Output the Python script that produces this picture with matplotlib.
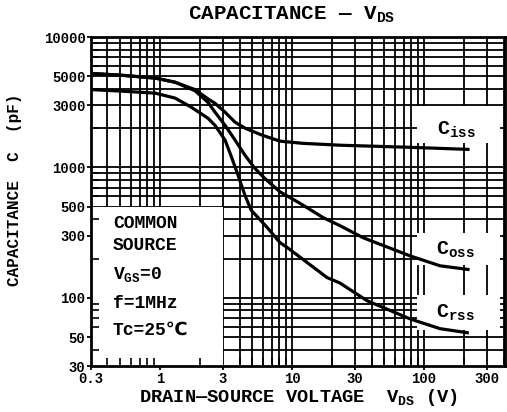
import numpy as np
import matplotlib
matplotlib.use('Agg')
import matplotlib.pyplot as plt
from matplotlib.patches import Rectangle
from matplotlib.ticker import FixedLocator, LogLocator, NullFormatter


# valores (VDS em V, C em pF)
vds_iss = [0.3, 0.5, 0.92, 1.3, 1.84, 2.31, 2.61, 3.11, 3.7, 4.4, 5.9, 8.1, 12, 23, 78, 215]
c_iss = [5250, 5100, 4840, 4500, 3950, 3350, 3100, 2650, 2220, 2000, 1770, 1590, 1530, 1480, 1426, 1375]

vds_oss = [0.3, 0.5, 0.92, 1.3, 1.84, 2.31, 2.61, 3.11, 3.7, 4.4, 5.24, 6.24, 8.1, 11.5, 17.2,
           23, 34.5, 78, 132, 215]
c_oss = [5250, 5100, 4840, 4500, 3870, 3150, 2650, 2100, 1620, 1240, 980, 820, 650, 530, 412,
         358, 289, 210, 176, 165]

vds_rss = [0.3, 0.5, 0.92, 1.3, 1.72, 2.31, 2.61, 3.11, 3.51, 3.9, 4.4, 4.9, 6.5, 8.1, 9.2,
           18.4, 23, 37, 78, 132, 212]
c_rss = [3950, 3850, 3710, 3400, 2900, 2380, 2100, 1620, 1170, 870, 610, 470, 345, 265, 243,
         143, 130, 95, 69, 58, 54]

xticks = [0.3, 1, 3, 10, 30, 100, 300]
xtick_labels = ['0.3', '1', '3', '10', '30', '100', '300']
yticks = [30, 50, 100, 300, 500, 1000, 3000, 5000, 10000]
ytick_labels = ['30', '50', '100', '300', '500', '1000', '3000', '5000', '10000']

fonte = ['Liberation Mono', 'DejaVu Sans']
plt.rcParams['font.family'] = fonte
plt.rcParams['font.weight'] = 'bold'
plt.rcParams['mathtext.fontset'] = 'custom'
plt.rcParams['mathtext.rm'] = 'Liberation Mono:bold'
plt.rcParams['mathtext.it'] = 'Liberation Mono:bold'
plt.rcParams['mathtext.bf'] = 'Liberation Mono:bold'

fig = plt.figure(figsize=(5.07, 4.12), dpi=100)
ax = fig.add_axes([91/507, 1 - 366/412, 414/507, 329/412])
ax.set_xscale('log')
ax.set_yscale('log')
ax.set_xlim(0.3, 410)
ax.set_ylim(30, 10000)

# grade desenhada a mao, para ficar por baixo da caixa branca
for k in range(-1, 3):
    for m in range(1, 10):
        v = m * 10.0 ** k
        if 0.3 < v < 410:
            ax.axvline(v, color='black', lw=1.3, zorder=0.5)
for k in range(1, 5):
    for m in range(1, 10):
        v = m * 10.0 ** k
        if 30 < v < 10000:
            ax.axhline(v, color='black', lw=1.3, zorder=0.5)

# caixa com as condicoes de teste
ax.add_patch(Rectangle((0.3, 30), 2.7, 470, facecolor='white', edgecolor='none', zorder=1))
# caixas brancas dos rotulos
for y0, y1 in [(0.678, 0.79), (0.307, 0.404), (0.109, 0.216)]:
    ax.add_patch(Rectangle((0.787, y0), 0.2, y1 - y0, transform=ax.transAxes,
                           facecolor='white', edgecolor='none', zorder=1))

ax.plot(vds_iss, c_iss, color='black', lw=2.3, zorder=3)
ax.plot(vds_oss, c_oss, color='black', lw=2.3, zorder=3)
ax.plot(vds_rss, c_rss, color='black', lw=2.3, zorder=3)

ax.xaxis.set_major_locator(FixedLocator(xticks))
ax.set_xticklabels(xtick_labels)
ax.yaxis.set_major_locator(FixedLocator(yticks))
ax.set_yticklabels(ytick_labels)
ax.xaxis.set_minor_locator(LogLocator(base=10, subs=np.arange(1, 10)))
ax.yaxis.set_minor_locator(LogLocator(base=10, subs=np.arange(1, 10)))
ax.xaxis.set_minor_formatter(NullFormatter())
ax.yaxis.set_minor_formatter(NullFormatter())
ax.tick_params(which='major', direction='out', length=3, width=1.3, labelsize=10, pad=1)
ax.tick_params(which='minor', direction='in', length=6, width=1.2)
for s in ax.spines.values():
    s.set_linewidth(2)

fs = 13
ax.text(0.053, 0.432, 'COMMON', transform=ax.transAxes, fontsize=fs, va='center', zorder=4)
ax.text(0.053, 0.365, 'SOURCE', transform=ax.transAxes, fontsize=fs, va='center', zorder=4)
ax.text(0.053, 0.277, r'V$_{\rm GS}$=0', transform=ax.transAxes, fontsize=fs, va='center', zorder=4)
ax.text(0.053, 0.191, 'f=1MHz', transform=ax.transAxes, fontsize=fs, va='center', zorder=4)
ax.text(0.053, 0.109, 'Tc=25℃', transform=ax.transAxes, fontsize=fs, va='center', zorder=4)

ax.text(0.882, 0.717, r'C$_{\rm iss}$', transform=ax.transAxes, fontsize=14.5, ha='center', va='center', zorder=4)
ax.text(0.879, 0.353, r'C$_{\rm oss}$', transform=ax.transAxes, fontsize=14.5, ha='center', va='center', zorder=4)
ax.text(0.879, 0.161, r'C$_{\rm rss}$', transform=ax.transAxes, fontsize=14.5, ha='center', va='center', zorder=4)

fig.text(292/507, 1 - 15/412, r'CAPACITANCE — V$_{\rm DS}$', fontsize=15, ha='center', va='center')
fig.text(299/507, 1 - 397/412, r'DRAIN—SOURCE VOLTAGE  V$_{\rm DS}$ (V)', fontsize=13.5, ha='center', va='center')
fig.text(15/507, 1 - 190/412, 'CAPACITANCE  C  (pF)', fontsize=11.5, ha='center', va='center', rotation=90)

fig.savefig('out.png', dpi=100)
